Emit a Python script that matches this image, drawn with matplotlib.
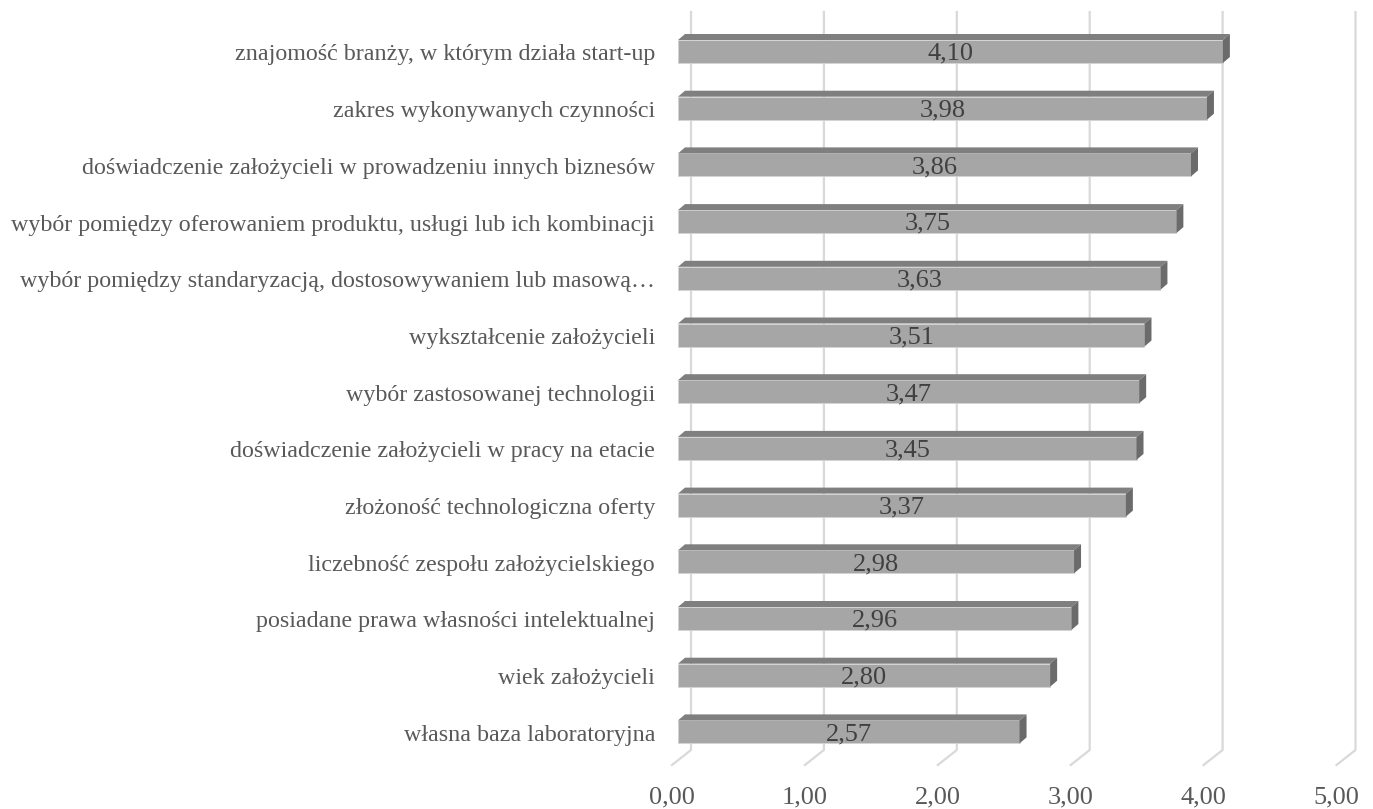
import matplotlib.pyplot as plt
from matplotlib.patches import Polygon

# dane
categories = [
    "znajomość branży, w którym działa start-up",
    "zakres wykonywanych czynności",
    "doświadczenie założycieli w prowadzeniu innych biznesów",
    "wybór pomiędzy oferowaniem produktu, usługi lub ich kombinacji",
    "wybór pomiędzy standaryzacją, dostosowywaniem lub masową…",
    "wykształcenie założycieli",
    "wybór zastosowanej technologii",
    "doświadczenie założycieli w pracy na etacie",
    "złożoność technologiczna oferty",
    "liczebność zespołu założycielskiego",
    "posiadane prawa własności intelektualnej",
    "wiek założycieli",
    "własna baza laboratoryjna",
]
values = [4.10, 3.98, 3.86, 3.75, 3.63, 3.51, 3.47, 3.45, 3.37, 2.98, 2.96, 2.80, 2.57]
ticks = [0, 1, 2, 3, 4, 5]
tick_labels = ["0,00", "1,00", "2,00", "3,00", "4,00", "5,00"]

plt.rcParams["font.family"] = ["Liberation Serif", "DejaVu Serif"]

W, H = 1373, 809
fig = plt.figure(figsize=(W / 100, H / 100), dpi=100)

# geometria w pikselach
px_unit = 132.9      # piksele na 1,00
px_row = 56.7        # odstep miedzy slupkami
x0_px = 678
top_c = 51.5         # srodek pierwszego slupka
floor_px = 765

ax = fig.add_axes([x0_px / W, (H - floor_px) / H, 5.2 * px_unit / W, floor_px / H])
ax.set_xlim(0, 5.2)
ax.set_ylim((floor_px - top_c) / px_row, -top_c / px_row)
ax.axis("off")

def row(px):
    return (px - top_c) / px_row

# siatka (tylna sciana + podloga)
gdx = 13 / px_unit
fdx = -6 / px_unit
for t, lab in zip(ticks, tick_labels):
    ax.plot([t + gdx, t + gdx, t + fdx], [row(12), row(750), row(765)],
            color="#d9d9d9", lw=1.6, clip_on=False, zorder=1)
    ax.text(t + fdx, row(797), lab, ha="center", va="center",
            fontsize=19, color="#595959")

# slupki 3d
h = 23 / px_row
ddx = 7 / px_unit
ddy = 6 / px_row
for i, (cat, v) in enumerate(zip(categories, values)):
    y_top = i - h / 2
    y_bot = i + h / 2
    front = Polygon([(0, y_top), (v, y_top), (v, y_bot), (0, y_bot)],
                    closed=True, fc="#a6a6a6", ec="#d4d4d4", lw=0.6, zorder=3)
    top = Polygon([(0, y_top), (v, y_top), (v + ddx, y_top - ddy), (ddx, y_top - ddy)],
                  closed=True, fc="#7f7f7f", ec="none", zorder=3)
    side = Polygon([(v, y_top), (v + ddx, y_top - ddy), (v + ddx, y_bot - ddy), (v, y_bot)],
                   closed=True, fc="#6b6b6b", ec="none", zorder=3)
    for p in (front, top, side):
        p.set_clip_on(False)
        ax.add_patch(p)
    ax.text(v / 2, i + 0.04, f"{v:.2f}".replace(".", ","), ha="center", va="center",
            fontsize=19, color="#404040", zorder=4)
    ax.text(-23 / px_unit, i + 0.06, cat, ha="right", va="center", fontsize=17.3,
            color="#595959")

fig.savefig("out.png", dpi=100)
